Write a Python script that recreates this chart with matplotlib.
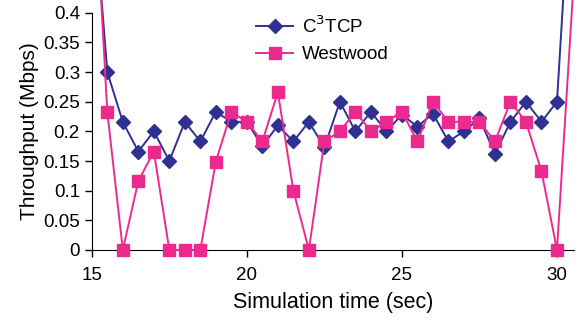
import matplotlib.pyplot as plt
import matplotlib.patches as mpatches
import numpy as np

plt.rcParams['font.family'] = ['Liberation Sans', 'DejaVu Sans']

# sample times (sec); first and last samples lie above the plotted range
t = [15.0, 15.5, 16.0, 16.5, 17.0, 17.5, 18.0, 18.5, 19.0, 19.5, 20.0,
     20.5, 21.0, 21.5, 22.0, 22.5, 23.0, 23.5, 24.0, 24.5, 25.0,
     25.5, 26.0, 26.5, 27.0, 27.5, 28.0, 28.5, 29.0, 29.5, 30.0, 30.5]

c3tcp = [0.63, 0.30, 0.216, 0.166, 0.20, 0.15, 0.216, 0.183, 0.233, 0.216, 0.216,
         0.175, 0.21, 0.183, 0.216, 0.173, 0.25, 0.20, 0.233, 0.20, 0.228,
         0.208, 0.23, 0.183, 0.20, 0.222, 0.162, 0.216, 0.25, 0.216, 0.25, 0.68]

westwood = [0.71, 0.233, 0.0, 0.116, 0.166, 0.0, 0.0, 0.0, 0.149, 0.233, 0.216,
            0.183, 0.266, 0.10, 0.0, 0.183, 0.20, 0.233, 0.20, 0.216, 0.233,
            0.183, 0.25, 0.216, 0.216, 0.216, 0.183, 0.25, 0.216, 0.133, 0.0, 0.42]

yticks = [0, 0.05, 0.1, 0.15, 0.2, 0.25, 0.3, 0.35, 0.4]
ylabels = ['0', '0.05', '0.1', '0.15', '0.2', '0.25', '0.3', '0.35', '0.4']
xticks = [15, 20, 25, 30]

fig = plt.figure(figsize=(5.81, 3.2), dpi=100)
ax = fig.add_axes([0.158, 0.219, 0.83, 0.741])

blue = '#2e3192'
pink = '#ec2a8d'

l1, = ax.plot(t, c3tcp, color=blue, marker='D', markersize=7.5, lw=1.4,
              markevery=slice(1, -1), label='C$^3$TCP', clip_on=False, zorder=3)
l2, = ax.plot(t, westwood, color=pink, marker='s', markersize=9, lw=1.4,
              markevery=slice(1, -1), label='Westwood', clip_on=False, zorder=4)

# clip at the top of the axes but let markers at zero show fully
for ln in (l1, l2):
    r = mpatches.Rectangle((-0.05, -0.1), 1.1, 1.1, transform=ax.transAxes)
    ln.set_clip_path(r)

ax.set_xlim(15, 30.55)
ax.set_ylim(0, 0.4)
ax.set_xticks(xticks)
ax.set_yticks(yticks)
ax.set_yticklabels(ylabels)
ax.tick_params(labelsize=13.5, direction='out', length=5, width=1)
ax.tick_params(axis='x', pad=7)
ax.spines['top'].set_visible(False)
ax.spines['right'].set_visible(False)
ax.set_xlabel('Simulation time (sec)', fontsize=15.5, labelpad=6)
ax.set_ylabel('Throughput (Mbps)', fontsize=15, labelpad=3)

ax.legend(loc='upper left', bbox_to_anchor=(0.305, 1.06), frameon=False,
          fontsize=13.5, handlelength=2.0, handletextpad=0.45, labelspacing=0.5)

fig.savefig('out.png', dpi=100)
